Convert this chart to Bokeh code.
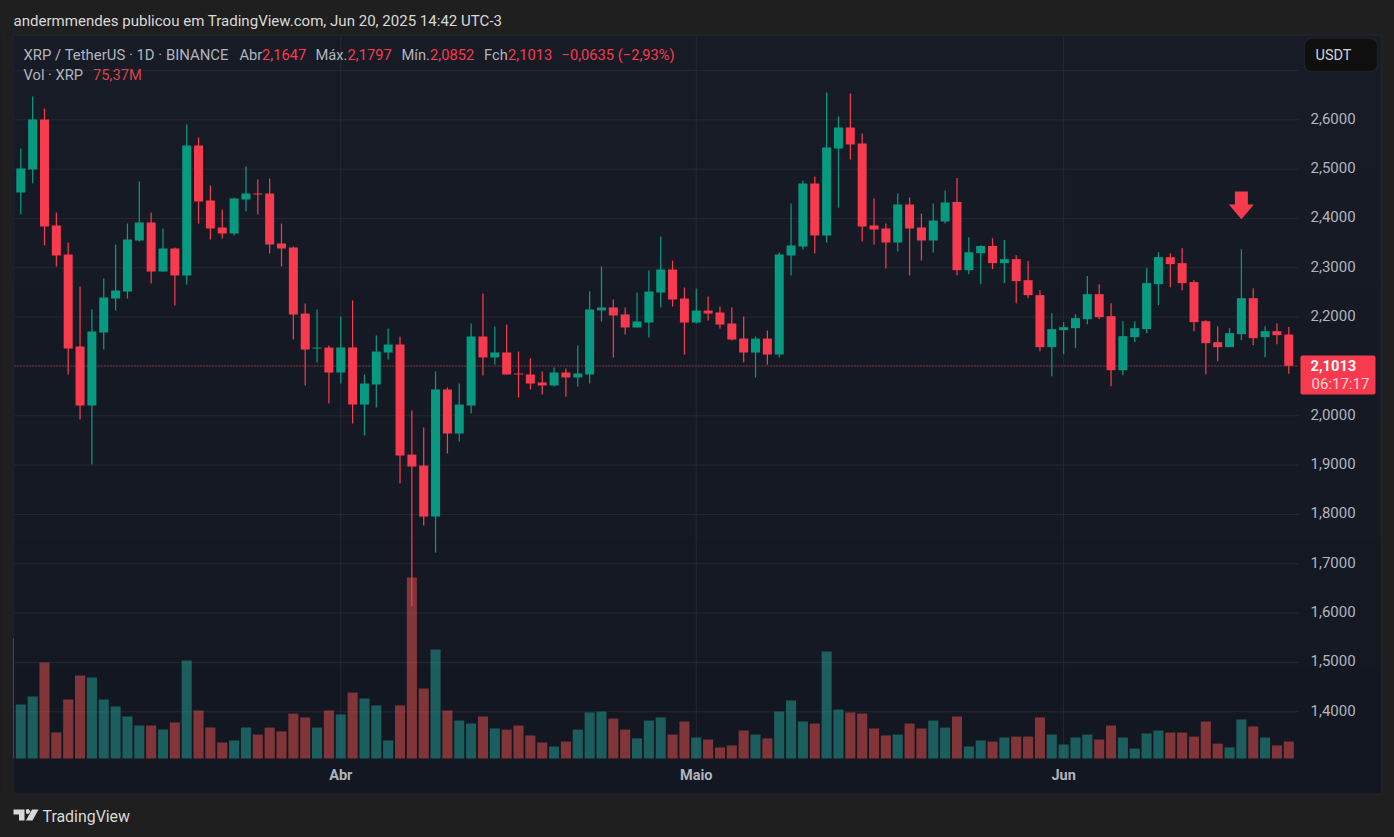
from bokeh.plotting import figure
from bokeh.models import (BoxAnnotation, Label, PolyAnnotation, Range1d, LinearAxis, FixedTicker, ColumnDataSource)
from bokeh.embed import file_html
from bokeh.resources import INLINE

opens = [2.4527,2.4993,2.6007,2.3857,2.3269,2.1403,2.0207,2.1687,2.2377,2.2519,2.3553,2.3918,2.2924,2.3391,2.2843,2.5479,2.4364,2.3817,2.3695,2.4384,2.4506,2.4506,2.3492,2.3411,2.2072,2.1363,2.1383,
 2.0877,2.1384,2.0228,2.0634,2.1283,2.1445,1.9214,1.8991,1.7957,2.0533,1.9640,2.0208,2.1607,2.1182,2.1283,2.0857,2.0837,2.0675,2.0614,2.0877,2.0776,2.0837,2.2135,2.2196,2.2054,2.1790,
 2.1890,2.2498,2.2965,2.2377,2.1890,2.2133,2.2093,2.1870,2.1565,2.1282,2.1565,2.1241,2.3249,2.3431,2.4709,2.3654,2.5419,2.5845,2.5520,2.3857,2.3796,2.3512,2.4283,2.3817,2.3553,2.3938,
 2.4331,2.2952,2.3297,2.3439,2.3094,2.3175,2.2749,2.2445,2.1391,2.1735,2.1776,2.1958,2.2465,2.2019,2.0924,2.1593,2.1756,2.2668,2.3216,2.3094,2.2709,2.1918,2.1492,2.1391,2.1654,2.2384,2.1593,2.1715,2.1647]
highs = [2.5419,2.6473,2.6230,2.4121,2.3512,2.2620,2.2154,2.2782,2.3472,2.3898,2.4749,2.4121,2.3796,2.3411,2.5905,2.5642,2.4668,2.4182,2.4425,2.5054,2.4790,2.4810,2.3898,2.3431,2.2275,2.2154,2.1423,
 2.2013,2.2338,2.0837,2.1628,2.1770,2.1607,2.0107,1.9762,2.0898,2.0573,2.0654,2.1871,2.2479,2.1810,2.1851,2.1303,2.1161,2.0898,2.0979,2.0958,2.1425,2.2520,2.3027,2.2358,2.2196,2.2500,
 2.2944,2.3634,2.3147,2.2600,2.2579,2.2417,2.2214,2.2194,2.2012,2.1606,2.1728,2.3310,2.4303,2.4770,2.4851,2.6554,2.6068,2.6534,2.5723,2.4405,2.3898,2.4506,2.4425,2.4100,2.4303,2.4567,
 2.4818,2.3621,2.3459,2.3601,2.3561,2.3256,2.3135,2.2547,2.2080,2.1898,2.2060,2.2831,2.2668,2.2283,2.1918,2.1918,2.2993,2.3317,2.3297,2.3398,2.2749,2.1938,2.1817,2.1776,2.3378,2.2587,2.1817,2.1877,2.1797]
lows = [2.4080,2.4716,2.3451,2.3026,2.0835,1.9923,1.9010,2.1342,2.2133,2.2377,2.3533,2.2681,2.2924,2.2235,2.2661,2.3898,2.3573,2.3593,2.3654,2.4141,2.4080,2.3289,2.3026,2.1545,2.0612,2.1079,2.0247,
 2.0654,1.9843,1.9600,2.0168,2.1141,1.8626,1.6139,1.7775,1.7227,1.9235,1.9478,2.0046,2.0817,2.1040,2.0837,2.0370,2.0533,2.0431,2.0593,2.0391,2.0593,2.0654,2.1912,2.1182,2.1648,2.1790,
 2.1586,2.2194,2.2214,2.1241,2.1870,2.1930,2.1768,2.1525,2.1079,2.0775,2.1038,2.1180,2.2843,2.3370,2.3289,2.3512,2.4222,2.5196,2.3533,2.3472,2.2985,2.3330,2.2843,2.3147,2.3310,2.3898,
 2.2851,2.2871,2.2668,2.2972,2.2689,2.2283,2.2384,2.1310,2.0803,2.1249,2.1370,2.1857,2.1958,2.0600,2.0823,2.1492,2.1675,2.2242,2.2607,2.2547,2.1715,2.0843,2.1107,2.1391,2.1533,2.1431,2.1188,2.1451,2.0852]
closes = [2.5013,2.6007,2.3837,2.3249,2.1363,2.0207,2.1707,2.2397,2.2539,2.3573,2.3918,2.2924,2.3391,2.2843,2.5479,2.4344,2.3796,2.3695,2.4405,2.4506,2.4486,2.3472,2.3391,2.2052,2.1342,2.1383,2.0876,
 2.1384,2.0228,2.0654,2.1303,2.1445,1.9194,1.8971,1.7957,2.0533,1.9640,2.0228,2.1607,2.1182,2.1283,2.0837,2.0837,2.0654,2.0614,2.0877,2.0776,2.0857,2.2155,2.2196,2.2033,2.1790,2.1912,
 2.2519,2.2965,2.2356,2.1890,2.2133,2.2072,2.1849,2.1545,2.1282,2.1565,2.1241,2.3269,2.3451,2.4709,2.3654,2.5439,2.5845,2.5500,2.3837,2.3776,2.3512,2.4283,2.3796,2.3553,2.3958,2.4324,
 2.2952,2.3317,2.3439,2.3094,2.3175,2.2729,2.2445,2.1391,2.1756,2.1796,2.1979,2.2465,2.1999,2.0924,2.1614,2.1776,2.2689,2.3216,2.3074,2.2689,2.1898,2.1472,2.1391,2.1675,2.2384,2.1573,2.1715,2.1634,2.1013]
volumes = [239,275,425,115,261,368,359,261,230,186,146,146,128,160,434,213,137,71,80,137,106,137,120,199,182,137,213,
 195,292,266,235,80,235,802,310,483,213,168,155,186,133,128,146,102,71,53,75,128,204,208,177,128,89,
 168,182,106,164,93,84,49,58,124,106,89,208,257,164,155,474,217,204,199,133,102,106,155,133,168,137,
 186,53,80,75,93,97,97,182,106,62,93,106,84,146,93,44,111,124,115,115,97,164,66,49,173,142,93,58,75.37]
prior_volume = 532
price_ticks = [1.4,1.5,1.6,1.7,1.8,1.9,2.0,2.1,2.2,2.3,2.4,2.5,2.6]
price_tick_labels = ["1,4000","1,5000","1,6000","1,7000","1,8000","1,9000","2,0000","2,1000","2,2000","2,3000","2,4000","2,5000","2,6000"]
grid_prices = price_ticks + [2.7]
month_index = [27,57,88]
month_labels = ["Abr","Maio","Jun"]
last_price = 2.1013
arrow_index = 103
arrow_top, arrow_shoulder, arrow_tip = 2.4547, 2.4283, 2.3986

UP, DOWN = "#089981", "#F73A4D"
VUP, VDOWN = "#26A69A", "#EF5350"
OUTER, GRID, EDGE = "#1F1F1F", "#242832", "#2E3139"
TEXT = "#B2B5BE"
FONT = "Roboto"

# Plot window of the chart, in data units
x_left, x_right = -0.532, 107.82
y_low, y_high = 1.3053, 2.7689

n = len(opens)
idx = list(range(n))
colors = [UP if c >= o else DOWN for o, c in zip(opens, closes)]
vol_colors = [VUP] + [VUP if c >= o else VDOWN for o, c in zip(opens, closes)]
src = ColumnDataSource(dict(i=idx, o=opens, h=highs, l=lows, c=closes, col=colors))
vsrc = ColumnDataSource(dict(i=[-1] + idx, v=[prior_volume] + volumes, col=vol_colors))

# The frame fills the whole page so that header, tag and logo are not clipped
p = figure(width=1394, height=837, output_backend="svg", toolbar_location=None,
           x_range=Range1d(-1.7131, 115.92), y_range=Range1d(1.14512, 2.8418),
           min_border_left=0, min_border_right=0, min_border_top=0, min_border_bottom=0,
           x_axis_location=None, y_axis_location=None, outline_line_color=None,
           background_fill_color=OUTER, border_fill_color=OUTER)
p.extra_y_ranges["vol"] = Range1d(-350, 3358)
# Same price scale, with its labels sitting 1.5px above the grid lines
p.extra_y_ranges["price_labels"] = Range1d(1.14512 - 0.003, 2.8418 - 0.003)
p.grid.visible = False

H = 837
def sy(y): return H - y
def box(l, t, r, b, level="overlay", **kw):
    b_ = BoxAnnotation(left=l, right=r, top=sy(t), bottom=sy(b), left_units="screen", right_units="screen",
                       top_units="screen", bottom_units="screen", level=level, **kw)
    p.add_layout(b_)
    return b_
def text(x, y, s, color=TEXT, size=14.7, style="normal", align="left"):
    p.add_layout(Label(x=x, y=sy(y), x_units="screen", y_units="screen", text=s, text_color=color,
                       text_font=FONT, text_font_size=f"{size}px", text_font_style=style,
                       text_align=align, text_baseline="middle", level="overlay"))

# Chart panel, slightly darker towards the bottom
bands = 6
top_rgb, bot_rgb = (23, 27, 38), (18, 23, 33)
for k in range(bands):
    t0 = 34 + (793 - 34) * k / bands
    t1 = 34 + (793 - 34) * (k + 1) / bands
    mix = (k + 0.5) / bands
    rgb = tuple(round(a + (b - a) * mix) for a, b in zip(top_rgb, bot_rgb))
    box(13, t0, 1381, t1 + 0.5, level="underlay", fill_color="#%02X%02X%02X" % rgb, fill_alpha=1, line_color=None)
box(13, 34.5, 1381, 793, level="underlay", fill_alpha=0, line_color=EDGE, line_width=2)

p.segment(x0=[x_left] * len(grid_prices), x1=[x_right] * len(grid_prices), y0=grid_prices, y1=grid_prices, line_color=GRID, line_width=1)
p.segment(x0=month_index, x1=month_index, y0=[y_low] * 3, y1=[y_high] * 3, line_color=GRID, line_width=1)

right = LinearAxis(ticker=FixedTicker(ticks=price_ticks), fixed_location=x_right, y_range_name="price_labels",
                   major_label_overrides=dict(zip(price_ticks, price_tick_labels)))
right.axis_line_color = None
right.major_tick_line_color = None
right.minor_tick_line_color = None
right.major_tick_out = 0
right.major_label_standoff = 12
right.major_label_text_color = TEXT
right.major_label_text_font = FONT
right.major_label_text_font_size = "15px"
p.add_layout(right, "right")

bottom = LinearAxis(ticker=FixedTicker(ticks=month_index), fixed_location=y_low,
                    major_label_overrides=dict(zip(month_index, month_labels)))
bottom.axis_line_color = None
bottom.major_tick_line_color = None
bottom.minor_tick_line_color = None
bottom.major_tick_out = 0
bottom.major_label_standoff = 9
bottom.major_label_text_color = TEXT
bottom.major_label_text_font = FONT
bottom.major_label_text_font_size = "14.5px"
bottom.major_label_text_font_style = "bold"
p.add_layout(bottom, "below")

p.vbar(x="i", top="v", bottom=0, width=0.85, source=vsrc, fill_color="col", fill_alpha=0.5, line_color=None, y_range_name="vol")
box(0, 34, 12.6, 793, fill_color=OUTER, fill_alpha=1, line_color=None)  # clips the partly hidden first volume bar
p.line([x_left, x_right], [last_price, last_price], line_color="#F23645", line_width=1, line_dash=[1, 2], line_alpha=0.9)
p.segment(x0="i", x1="i", y0="l", y1="h", source=src, line_color="col", line_width=1.25)
p.vbar(x="i", top="o", bottom="c", width=0.76, source=src, fill_color="col", line_color=None)

hw, sw = 12.5 / 11.85, 6.5 / 11.85
p.patch([arrow_index - sw, arrow_index + sw, arrow_index + sw, arrow_index + hw, arrow_index, arrow_index - hw, arrow_index - sw],
        [arrow_top, arrow_top, arrow_shoulder, arrow_shoulder, arrow_tip, arrow_shoulder, arrow_shoulder],
        fill_color=DOWN, line_color=None)

# Button and price tag
box(1304, 38, 1377, 71, fill_color="#0F0F0F", fill_alpha=1, line_color="#3A3C41", line_width=1.5, border_radius=7)
text(1315, 55, "USDT", "#D1D4DC", 14.5)
box(1300, 355, 1375, 394, fill_color=DOWN, fill_alpha=1, line_color=None, border_radius=2)
text(1310, 365, "2,1013", "#FFFFFF", 14.7, "bold")
text(1311, 383, "06:17:17", "#FFD3D8", 15)

# Header texts
text(13, 20, "andermmendes publicou em TradingView.com, Jun 20, 2025 14:42 UTC-3", "#D9D9D9", 15.05)
text(23, 54, "XRP / TetherUS · 1D · BINANCE", TEXT, 14.9)
for x, s in [(239, "Abr"), (315, "Máx."), (401, "Mín."), (483.5, "Fch")]:
    text(x, 54, s)
for x, s in [(261.5, "2,1647"), (347, "2,1797"), (429.5, "2,0852"), (507.5, "2,1013"), (561, "−0,0635 (−2,93%)")]:
    text(x, 54, s, DOWN)
text(23, 74.5, "Vol · XRP")
text(92.5, 74.5, "75,37M", "#D9434A")

# TradingView logo
def poly(xs, ys):
    p.add_layout(PolyAnnotation(xs=list(xs), ys=[sy(y) for y in ys], xs_units="screen", ys_units="screen",
                                fill_color="#D9D9D9", fill_alpha=1, line_color=None, level="overlay"))
poly([13, 24, 24, 18.5, 18.5, 13], [809, 809, 820, 820, 814, 814])
poly([25.5, 28, 30, 28, 25.5], [809, 808.5, 811, 813.5, 813])
poly([31.5, 38, 32, 25.5], [809, 809, 820, 820])
text(42, 815.5, "TradingView", "#D9D9D9", 15.9)

html = file_html(p, INLINE, title="XRP / TetherUS", template="""
{% block postamble %}<style>html,body{margin:0;padding:0;overflow:hidden;background:#1F1F1F;}</style>{% endblock %}""")
open("out.html", "w").write(html)
